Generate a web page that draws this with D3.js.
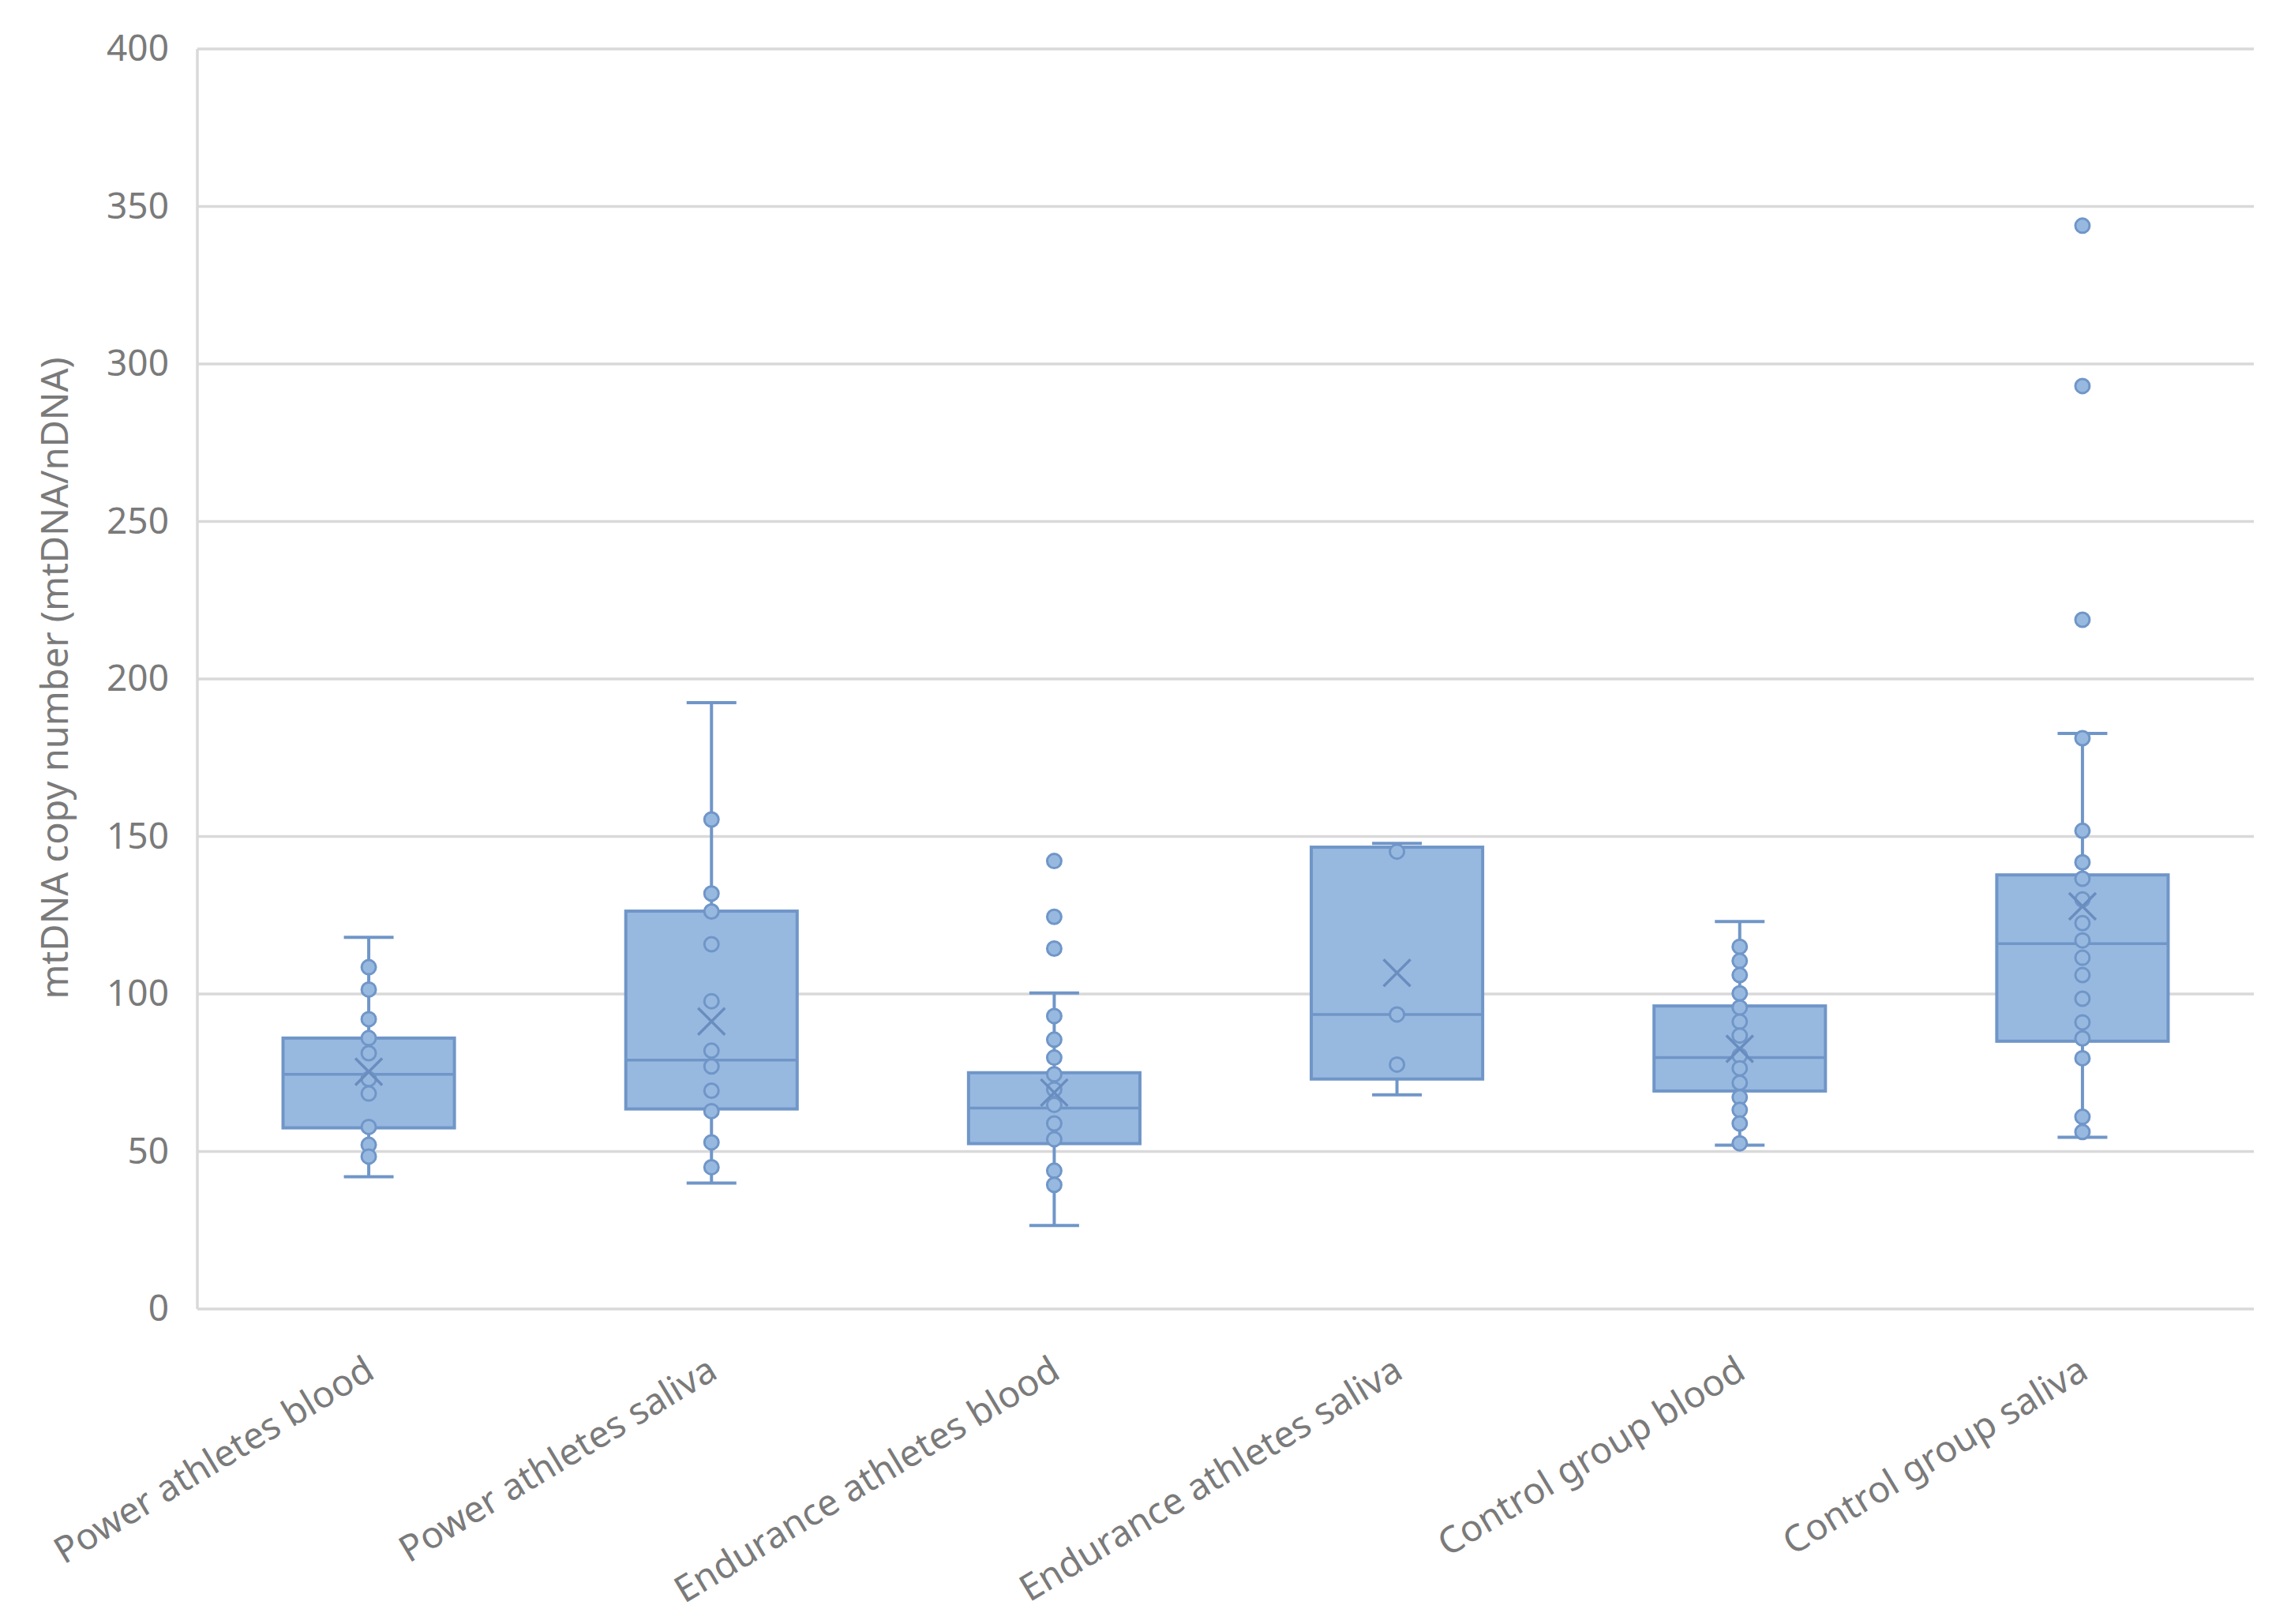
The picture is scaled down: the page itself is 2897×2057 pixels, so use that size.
<!DOCTYPE html>
<html>
<head>
<meta charset="utf-8">
<script src="https://cdn.jsdelivr.net/npm/d3@7"></script>
<style>
  body { margin: 0; background: #fff; }
  text { font-family: "Noto Sans", "Open Sans", sans-serif; }
</style>
</head>
<body>
<svg id="chart"></svg>
<script>
// groups and box statistics
const groups = ["Power athletes blood", "Power athletes saliva", "Endurance athletes blood",
                "Endurance athletes saliva", "Control group blood", "Control group saliva"];
const whiskerLow  = [42, 40, 26.5, 68, 52, 54.5];
const q1          = [57.5, 63.5, 52.5, 73, 69.2, 85];
const median      = [74.5, 79, 63.8, 93.5, 79.8, 116];
const q3          = [86, 126.3, 75, 146.6, 96.2, 137.8];
const whiskerHigh = [118, 192.5, 100.3, 147.8, 123, 182.7];
const mean        = [75.3, 91.3, 68.7, 106.7, 82.6, 127.8];
const innerPoints = [
    [108.5, 101.4, 92, 86, 81.2, 73, 68.4, 57.8, 52.1, 48.4],
    [155.4, 131.9, 126.2, 115.8, 97.7, 82, 77, 69.3, 62.8, 52.9, 45],
    [93, 85.5, 79.8, 74.5, 69.7, 64.8, 58.9, 53.9, 43.9, 39.4],
    [145.2, 93.5, 77.6],
    [115, 110.5, 106, 100.2, 95.7, 91.2, 86.8, 80.4, 76.4, 71.8, 67.2, 63.2, 58.9, 52.6],
    [181.2, 151.8, 141.8, 136.6, 130, 122.5, 117, 111.5, 106, 98.5, 91, 85.9, 79.6, 61, 56.2]
];
const outliers = [[], [], [142.2, 124.5, 114.4], [], [], [343.9, 293, 218.8]];
const yTicks = [0, 50, 100, 150, 200, 250, 300, 350, 400];

const W = 2897, H = 2057;
const plotLeft = 250, plotRight = 2855, plotTop = 62, plotBottom = 1658;

const fill = "#97b9e0", stroke = "#7096c8", textColor = "#7a7a7a", gridColor = "#d9d9d9";

const svg = d3.select("#chart")
    .attr("width", W)
    .attr("height", H);

const x = d3.scaleBand()
    .domain(groups)
    .range([plotLeft, plotRight]);

const y = d3.scaleLinear()
    .domain([0, 400])
    .range([plotBottom, plotTop]);

// gridlines
svg.append("g")
    .selectAll("line")
    .data(yTicks)
    .enter()
    .append("line")
    .attr("x1", plotLeft)
    .attr("x2", plotRight)
    .attr("y1", d => y(d))
    .attr("y2", d => y(d))
    .attr("stroke", gridColor)
    .attr("stroke-width", 3.5);

// left axis line
svg.append("line")
    .attr("x1", plotLeft).attr("x2", plotLeft)
    .attr("y1", y(400)).attr("y2", y(0))
    .attr("stroke", gridColor)
    .attr("stroke-width", 3.5);

// y axis
const yAxis = svg.append("g")
    .attr("transform", `translate(${plotLeft},0)`)
    .call(d3.axisLeft(y).tickValues(yTicks).tickSize(0).tickPadding(36));
yAxis.select(".domain").remove();
yAxis.selectAll("text")
    .attr("fill", textColor)
    .style("font-size", "46px")
    .style("font-family", "'Noto Sans', sans-serif");

// y title
svg.append("text")
    .attr("transform", "translate(86, 859) rotate(-90)")
    .attr("text-anchor", "middle")
    .attr("fill", textColor)
    .style("font-size", "47px")
    .text("mtDNA copy number (mtDNA/nDNA)");

// x labels
svg.append("g")
    .selectAll("text")
    .data(groups)
    .enter()
    .append("text")
    .attr("transform", d => `translate(${x(d) + x.bandwidth() / 2 + 10}, ${plotBottom + 86}) rotate(-31)`)
    .attr("text-anchor", "end")
    .attr("fill", textColor)
    .style("font-size", "46.5px")
    .text(d => d);

const boxW = x.bandwidth() * 0.5;
const capW = 63;

const boxes = svg.append("g")
    .selectAll("g")
    .data(groups)
    .enter()
    .append("g")
    .attr("transform", d => `translate(${x(d) + x.bandwidth() / 2},0)`);

// whiskers
boxes.append("line")
    .attr("y1", (d, i) => y(whiskerHigh[i]))
    .attr("y2", (d, i) => y(q3[i]))
    .attr("stroke", stroke).attr("stroke-width", 4);
boxes.append("line")
    .attr("y1", (d, i) => y(q1[i]))
    .attr("y2", (d, i) => y(whiskerLow[i]))
    .attr("stroke", stroke).attr("stroke-width", 4);
boxes.append("line")
    .attr("x1", -capW / 2).attr("x2", capW / 2)
    .attr("y1", (d, i) => y(whiskerHigh[i]))
    .attr("y2", (d, i) => y(whiskerHigh[i]))
    .attr("stroke", stroke).attr("stroke-width", 4);
boxes.append("line")
    .attr("x1", -capW / 2).attr("x2", capW / 2)
    .attr("y1", (d, i) => y(whiskerLow[i]))
    .attr("y2", (d, i) => y(whiskerLow[i]))
    .attr("stroke", stroke).attr("stroke-width", 4);

// box
boxes.append("rect")
    .attr("x", -boxW / 2)
    .attr("width", boxW)
    .attr("y", (d, i) => y(q3[i]))
    .attr("height", (d, i) => y(q1[i]) - y(q3[i]))
    .attr("fill", fill)
    .attr("stroke", stroke)
    .attr("stroke-width", 4);

// median
boxes.append("line")
    .attr("x1", -boxW / 2).attr("x2", boxW / 2)
    .attr("y1", (d, i) => y(median[i]))
    .attr("y2", (d, i) => y(median[i]))
    .attr("stroke", stroke).attr("stroke-width", 3.5);

// points
boxes.each(function(d, i) {
    const g = d3.select(this);
    g.selectAll("circle")
        .data(innerPoints[i].concat(outliers[i]))
        .enter()
        .append("circle")
        .attr("cx", 0)
        .attr("cy", v => y(v))
        .attr("r", 9)
        .attr("fill", fill)
        .attr("stroke", stroke)
        .attr("stroke-width", 3);
});

// mean marker
const m = 17;
boxes.append("path")
    .attr("d", (d, i) => {
        const cy = y(mean[i]);
        return `M${-m},${cy - m}L${m},${cy + m}M${-m},${cy + m}L${m},${cy - m}`;
    })
    .attr("stroke", "#6a8dbf")
    .attr("stroke-width", 3.5)
    .attr("fill", "none");
</script>
</body>
</html>
